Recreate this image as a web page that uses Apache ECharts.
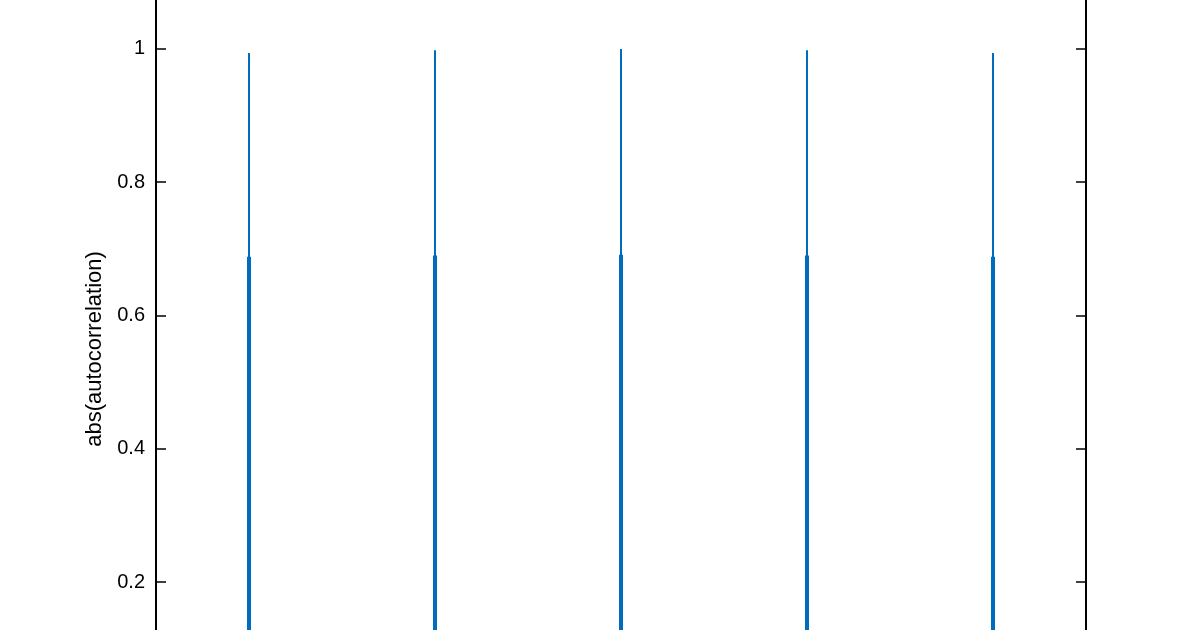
<!DOCTYPE html>
<html>
<head>
    <meta charset="utf-8">
    <title>abs(autocorrelation)</title>
    <script src="https://cdn.jsdelivr.net/npm/echarts@6/dist/echarts.min.js"></script>
    <style>
        html, body { margin: 0; padding: 0; background: #ffffff; }
        #chart { width: 1200px; height: 630px; }
    </style>
</head>
<body>
<div id="chart"></div>
<script>
    // peak lags and heights
    var peakLags = [-400, -200, 0, 200, 400];
    var peakValues = [0.994, 0.998, 1.0, 0.998, 0.994];
    // the neighbouring lags of each peak (drawn as the wider lower part)
    var sideValues = [0.688, 0.690, 0.691, 0.690, 0.688];
    var yTicks = [0.2, 0.4, 0.6, 0.8, 1];

    // visible part of the y axis (plot is cut at the top and bottom)
    var yMin = 0.128, yMax = 1.0735;

    var peakData = peakLags.map(function (x, i) { return [x, peakValues[i]]; });
    var sideData = peakLags.map(function (x, i) { return [x, sideValues[i]]; });

    var axisCommon = {
        type: 'value',
        min: yMin,
        max: yMax,
        axisLine: {show: true, onZero: false, lineStyle: {color: '#000', width: 2}},
        axisTick: {show: true, inside: true, length: 10, customValues: yTicks,
            lineStyle: {color: '#000', width: 1.5}},
        splitLine: {show: false}
    };

    var xCommon = {
        type: 'value',
        min: -500,
        max: 500,
        axisLine: {show: false},
        axisTick: {show: false},
        axisLabel: {show: false},
        splitLine: {show: false}
    };

    var chart = echarts.init(document.getElementById('chart'));
    chart.setOption({
        animation: false,
        grid: {left: 156, right: 114, top: 0, bottom: 0},
        xAxis: [xCommon, Object.assign({}, xCommon)],
        yAxis: [
            Object.assign({}, axisCommon, {
                position: 'left',
                name: 'abs(autocorrelation)',
                nameLocation: 'middle',
                nameGap: 50,
                nameTextStyle: {fontFamily: 'Liberation Sans', fontSize: 22, color: '#000',
                    padding: [0, 68, 0, 0]},
                axisLabel: {
                    fontFamily: 'Liberation Sans', fontSize: 20, color: '#000', margin: 11,
                    customValues: yTicks
                }
            }),
            Object.assign({}, axisCommon, {
                position: 'right',
                axisLabel: {show: false}
            })
        ],
        series: [
            {
                type: 'bar',
                xAxisIndex: 0,
                data: sideData,
                barWidth: 4,
                itemStyle: {color: '#006cbd'}
            },
            {
                type: 'bar',
                xAxisIndex: 1,
                data: peakData,
                barWidth: 2,
                itemStyle: {color: '#006cbd'}
            }
        ]
    });
</script>
</body>
</html>
